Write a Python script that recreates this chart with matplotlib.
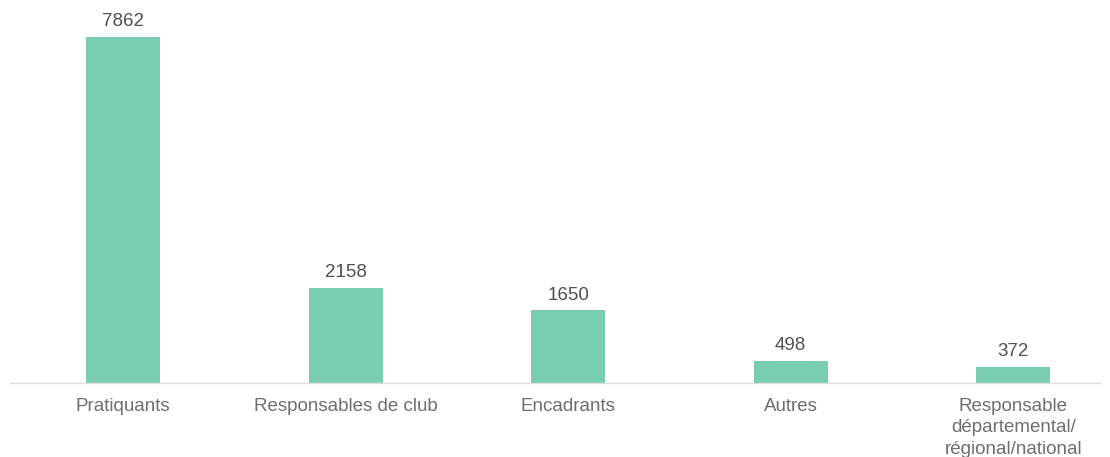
import matplotlib.pyplot as plt

categories = ['Pratiquants', 'Responsables de club', 'Encadrants', 'Autres',
              'Responsable\ndépartemental/\nrégional/national']
values = [7862, 2158, 1650, 498, 372]

plt.rcParams['font.family'] = ['Liberation Sans', 'DejaVu Sans']

fig = plt.figure(figsize=(11.1, 4.57), dpi=100)
ax = fig.add_axes([10 / 1110, 1 - 383 / 457, 1090 / 1110, 383 / 457])

x = range(len(categories))
bars = ax.bar(x, values, width=0.333, color='#78CEAE')

for b, v in zip(bars, values):
    ax.text(b.get_x() + b.get_width() / 2, v + 150, str(v),
            ha='center', va='bottom', fontsize=13.5, color='#505050')

ax.set_xlim(-0.508, 4.39)
ax.set_ylim(0, 8703)
ax.set_xticks(list(x))
ax.set_xticklabels(categories, fontsize=13.5, color='#6e6e6e', linespacing=1.32)
ax.tick_params(axis='x', length=0, pad=11)
ax.set_yticks([])

for s in ['top', 'right', 'left']:
    ax.spines[s].set_visible(False)
ax.spines['bottom'].set_color('#dddddd')
ax.spines['bottom'].set_linewidth(1)

fig.savefig('out.png', dpi=100)
